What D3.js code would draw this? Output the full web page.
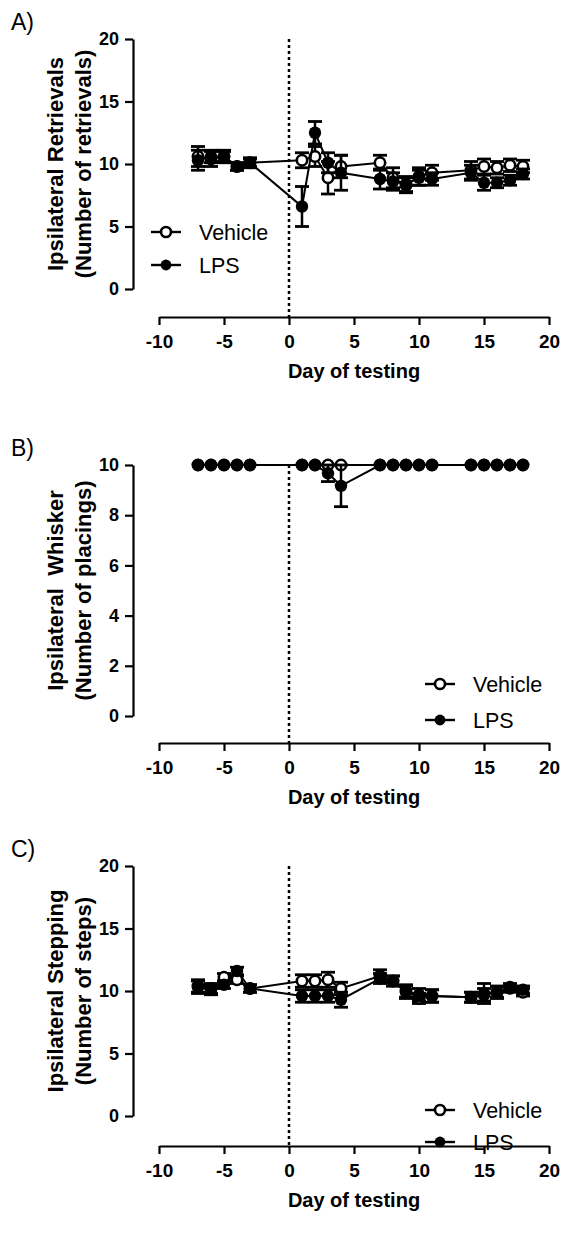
<!DOCTYPE html>
<html>
<head>
<meta charset="utf-8">
<script src="https://cdn.jsdelivr.net/npm/d3@7.9.0/dist/d3.min.js"></script>
<style>
  body { margin: 0; background: #fff; }
  svg { display: block; font-family: Arial, "Liberation Sans", sans-serif; }
  text { white-space: pre; }
</style>
</head>
<body>
<svg width="562" height="1238"></svg>
<script>
// days of testing (same for every panel)
const days = [-7, -6, -5, -4, -3, 1, 2, 3, 4, 7, 8, 9, 10, 11, 14, 15, 16, 17, 18];
const xTicks = [-10, -5, 0, 5, 10, 15, 20];

// A) retrievals
const vehA = [10.6, 10.4, 10.6, 9.8, 10.1, 10.3, 10.6, 8.9, 9.8, 10.1, 8.9, 8.3, 9.0, 9.3, 9.5, 9.8, 9.7, 9.9, 9.8];
const vehAErr = [0.8, 0.6, 0.5, 0.3, 0.4, 0.6, 0.8, 1.3, 0.9, 0.6, 0.8, 0.6, 0.7, 0.6, 0.7, 0.6, 0.5, 0.5, 0.5];
const lpsA = [10.3, 10.6, 10.6, 9.8, 10.1, 6.6, 12.5, 10.1, 9.3, 8.8, 8.6, 8.4, 8.9, 8.8, 9.3, 8.5, 8.5, 8.7, 9.2];
const lpsAErr = [0.8, 0.5, 0.4, 0.3, 0.3, 1.6, 0.9, 0.8, 1.4, 0.8, 0.7, 0.6, 0.6, 0.5, 0.6, 0.6, 0.4, 0.4, 0.4];

// B) whisker placings
const vehB = [10, 10, 10, 10, 10, 10, 10, 10, 10, 10, 10, 10, 10, 10, 10, 10, 10, 10, 10];
const vehBErr = [0, 0, 0, 0, 0, 0, 0, 0, 0, 0, 0, 0, 0, 0, 0, 0, 0, 0, 0];
const lpsB = [10, 10, 10, 10, 10, 10, 10, 9.67, 9.17, 10, 10, 10, 10, 10, 10, 10, 10, 10, 10];
const lpsBErr = [0, 0, 0, 0, 0, 0, 0, 0.33, 0.83, 0, 0, 0, 0, 0, 0, 0, 0, 0, 0];

// C) stepping
const vehC = [10.4, 10.2, 11.1, 10.9, 10.2, 10.8, 10.8, 10.9, 10.2, 11.2, 10.8, 10.0, 9.4, 9.6, 9.5, 9.7, 9.9, 10.3, 9.9];
const vehCErr = [0.5, 0.4, 0.3, 0.3, 0.3, 0.5, 0.5, 0.6, 0.5, 0.5, 0.4, 0.5, 0.4, 0.5, 0.4, 0.5, 0.4, 0.3, 0.3];
const lpsC = [10.3, 10.1, 10.5, 11.6, 10.2, 9.6, 9.6, 9.6, 9.3, 11.0, 10.8, 9.9, 9.7, 9.6, 9.5, 9.8, 9.9, 10.2, 10.1];
const lpsCErr = [0.5, 0.4, 0.3, 0.3, 0.3, 0.5, 0.5, 0.5, 0.6, 0.4, 0.4, 0.5, 0.5, 0.5, 0.4, 0.8, 0.5, 0.3, 0.3];

const panels = [
  { label: 'A)', top: 39, bottom: 289, axisY: 317, yMax: 20, yTicks: [0, 5, 10, 15, 20],
    title: ['Ipsilateral Retrievals', '(Number of retrievals)'],
    veh: vehA, vehErr: vehAErr, lps: lpsA, lpsErr: lpsAErr,
    legend: { x: 166, y: 232, gap: 33 } },
  { label: 'B)', top: 465, bottom: 716, axisY: 743, yMax: 10, yTicks: [0, 2, 4, 6, 8, 10],
    title: ['Ipsilateral  Whisker', '(Number of placings)'],
    veh: vehB, vehErr: vehBErr, lps: lpsB, lpsErr: lpsBErr,
    legend: { x: 440, y: 684, gap: 36 } },
  { label: 'C)', top: 866, bottom: 1116, axisY: 1146, yMax: 20, yTicks: [0, 5, 10, 15, 20],
    title: ['Ipsilateral Stepping', '(Number of steps)'],
    veh: vehC, vehErr: vehCErr, lps: lpsC, lpsErr: lpsCErr,
    legend: { x: 440, y: 1110, gap: 32 } }
];

const svg = d3.select('svg');
const x = d3.scaleLinear().domain([-10, 20]).range([159, 549]);
const yAxisX = 133;
const fam = 'Arial, "Liberation Sans", sans-serif';

panels.forEach((p) => {
  const g = svg.append('g');
  const y = d3.scaleLinear().domain([0, p.yMax]).range([p.bottom, p.top]);

  g.append('text')
    .attr('x', 11).attr('y', p.top - 9)
    .attr('font-size', 23)
    .text(p.label);

  // y axis
  const ya = g.append('g')
    .attr('transform', `translate(${yAxisX},0)`)
    .call(d3.axisLeft(y).tickValues(p.yTicks).tickFormat((d) => String(d))
      .tickSize(8).tickSizeOuter(0).tickPadding(6));
  ya.attr('font-family', fam).attr('font-size', 18).attr('font-weight', 'bold');
  ya.select('.domain').attr('stroke-width', 2.2);
  ya.selectAll('.tick line').attr('stroke-width', 2.2);

  // x axis
  const xa = g.append('g')
    .attr('transform', `translate(0,${p.axisY})`)
    .call(d3.axisBottom(x).tickValues(xTicks).tickFormat((d) => String(d))
      .tickSize(8).tickSizeOuter(0).tickPadding(10));
  xa.attr('font-family', fam).attr('font-size', 19).attr('font-weight', 'bold');
  xa.select('.domain').attr('stroke-width', 2.2);
  xa.selectAll('.tick line').attr('stroke-width', 2.2);

  g.append('text')
    .attr('x', 354).attr('y', p.axisY + 61)
    .attr('text-anchor', 'middle')
    .attr('font-weight', 'bold').attr('font-size', 20)
    .text('Day of testing');

  const midY = (p.top + p.bottom) / 2;
  p.title.forEach((t, i) => {
    g.append('text')
      .attr('transform', `translate(${63 + i * 28},${midY}) rotate(-90)`)
      .attr('text-anchor', 'middle')
      .attr('font-weight', 'bold').attr('font-size', 22)
      .text(t);
  });

  // dotted line at day 0
  g.append('line')
    .attr('x1', x(0)).attr('x2', x(0))
    .attr('y1', p.top).attr('y2', p.axisY)
    .attr('stroke', '#000').attr('stroke-width', 2.5)
    .attr('stroke-dasharray', '3,3');

  const line = d3.line().x((d) => x(d.day)).y((d) => y(d.v));

  [{ v: p.veh, e: p.vehErr, open: true }, { v: p.lps, e: p.lpsErr, open: false }].forEach((s) => {
    const pts = days.map((d, i) => ({ day: d, v: s.v[i], e: s.e[i] }));
    g.append('path').datum(pts)
      .attr('d', line).attr('fill', 'none')
      .attr('stroke', '#000').attr('stroke-width', 2);

    const eb = g.append('g').selectAll('g').data(pts.filter((d) => d.e > 0)).join('g');
    eb.append('line')
      .attr('x1', (d) => x(d.day)).attr('x2', (d) => x(d.day))
      .attr('y1', (d) => y(d.v - d.e)).attr('y2', (d) => y(d.v + d.e))
      .attr('stroke', '#000').attr('stroke-width', 2.5);
    [-1, 1].forEach((sgn) => {
      eb.append('line')
        .attr('x1', (d) => x(d.day) - 7).attr('x2', (d) => x(d.day) + 7)
        .attr('y1', (d) => y(d.v + sgn * d.e)).attr('y2', (d) => y(d.v + sgn * d.e))
        .attr('stroke', '#000').attr('stroke-width', 2.8);
    });

    g.append('g').selectAll('circle').data(pts).join('circle')
      .attr('cx', (d) => x(d.day)).attr('cy', (d) => y(d.v))
      .attr('r', s.open ? 5.2 : 6.2)
      .attr('fill', s.open ? '#fff' : '#000')
      .attr('stroke', '#000').attr('stroke-width', s.open ? 2.6 : 0);
  });

  // legend
  ['Vehicle', 'LPS'].forEach((name, i) => {
    const ly = p.legend.y + i * p.legend.gap;
    const lg = g.append('g');
    lg.append('line')
      .attr('x1', p.legend.x - 15).attr('x2', p.legend.x + 15)
      .attr('y1', ly).attr('y2', ly)
      .attr('stroke', '#000').attr('stroke-width', 2.4);
    lg.append('circle')
      .attr('cx', p.legend.x).attr('cy', ly)
      .attr('r', i === 0 ? 5 : 5.4)
      .attr('fill', i === 0 ? '#fff' : '#000')
      .attr('stroke', '#000').attr('stroke-width', i === 0 ? 2.6 : 0);
    lg.append('text')
      .attr('x', p.legend.x + 33).attr('y', ly + 8)
      .attr('font-size', 21.5)
      .text(name);
  });
});
</script>
</body>
</html>
